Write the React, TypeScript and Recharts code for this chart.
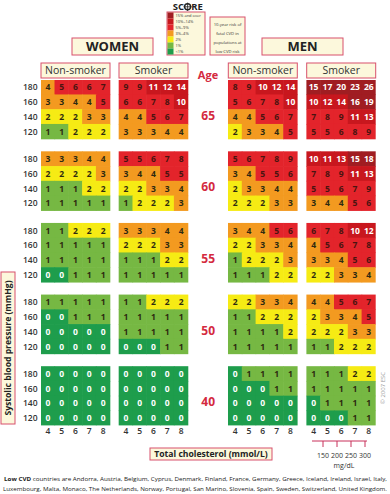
import { ScatterChart, Scatter, XAxis, YAxis } from "recharts";

// cholesterol (mmol/L), systolic BP rows, age blocks
const cholesterol = [4, 5, 6, 7, 8];
const sbp = [180, 160, 140, 120];
const ages = [65, 60, 55, 50, 40];

// 10-year risk (%) per age block, rows 180..120, columns chol 4..8
const womenNonSmoker = [
  [[4, 5, 6, 6, 7], [3, 3, 4, 4, 5], [2, 2, 2, 3, 3], [1, 1, 2, 2, 2]],
  [[3, 3, 3, 4, 4], [2, 2, 2, 2, 3], [1, 1, 1, 2, 2], [1, 1, 1, 1, 1]],
  [[1, 1, 2, 2, 2], [1, 1, 1, 1, 1], [1, 1, 1, 1, 1], [0, 0, 1, 1, 1]],
  [[1, 1, 1, 1, 1], [0, 0, 1, 1, 1], [0, 0, 0, 0, 0], [0, 0, 0, 0, 0]],
  [[0, 0, 0, 0, 0], [0, 0, 0, 0, 0], [0, 0, 0, 0, 0], [0, 0, 0, 0, 0]],
];

const womenSmoker = [
  [[9, 9, 11, 12, 14], [6, 6, 7, 8, 10], [4, 4, 5, 6, 7], [3, 3, 3, 4, 4]],
  [[5, 5, 6, 7, 8], [3, 4, 4, 5, 5], [2, 2, 3, 3, 4], [1, 2, 2, 2, 3]],
  [[3, 3, 3, 4, 4], [2, 2, 2, 3, 3], [1, 1, 1, 2, 2], [1, 1, 1, 1, 1]],
  [[1, 1, 2, 2, 2], [1, 1, 1, 1, 1], [1, 1, 1, 1, 1], [0, 0, 0, 1, 1]],
  [[0, 0, 0, 0, 0], [0, 0, 0, 0, 0], [0, 0, 0, 0, 0], [0, 0, 0, 0, 0]],
];

const menNonSmoker = [
  [[8, 9, 10, 12, 14], [5, 6, 7, 8, 10], [4, 4, 5, 6, 7], [2, 3, 3, 4, 5]],
  [[5, 6, 7, 8, 9], [3, 4, 5, 5, 6], [2, 3, 3, 4, 4], [2, 2, 2, 3, 3]],
  [[3, 4, 4, 5, 6], [2, 2, 3, 3, 4], [1, 2, 2, 2, 3], [1, 1, 1, 2, 2]],
  [[2, 2, 3, 3, 4], [1, 1, 2, 2, 2], [1, 1, 1, 1, 2], [1, 1, 1, 1, 1]],
  [[0, 1, 1, 1, 1], [0, 0, 0, 1, 1], [0, 0, 0, 0, 0], [0, 0, 0, 0, 0]],
];

const menSmoker = [
  [[15, 17, 20, 23, 26], [10, 12, 14, 16, 19], [7, 8, 9, 11, 13], [5, 5, 6, 8, 9]],
  [[10, 11, 13, 15, 18], [7, 8, 9, 11, 13], [5, 5, 6, 7, 9], [3, 4, 4, 5, 6]],
  [[6, 7, 8, 10, 12], [4, 5, 6, 7, 8], [3, 3, 4, 5, 6], [2, 2, 3, 3, 4]],
  [[4, 4, 5, 6, 7], [2, 3, 3, 4, 5], [2, 2, 2, 3, 3], [1, 1, 2, 2, 2]],
  [[1, 1, 1, 2, 2], [1, 1, 1, 1, 1], [0, 1, 1, 1, 1], [0, 0, 0, 1, 1]],
];

const legendLabels = ["15% and over", "10%–14%", "5%–9%", "3%–4%", "2%", "1%", "<1%"];
const legendColors = ["#a01d22", "#c8171e", "#e3242b", "#f39a20", "#f6eb14", "#76b843", "#1e9d4c"];
const mgdl = [150, 200, 250, 300];

// layout (column / row units)
const PANEL_X = [0, 5.65, 13.57, 19.25];
const X_MAX = 24.25;
const BLOCK_PITCH = 4.855;
const Y_MAX = 4 * BLOCK_PITCH + 4;
const CELL_W = 13.8;
const CELL_H = 14.75;

const PINK = "#d8506c";
const CREAM = "#fcf8dc";
const AGE_RED = "#d42a3f";

function riskColor(v: number) {
  if (v >= 15) return legendColors[0];
  if (v >= 10) return legendColors[1];
  if (v >= 5) return legendColors[2];
  if (v >= 3) return legendColors[3];
  if (v === 2) return legendColors[4];
  if (v === 1) return legendColors[5];
  return legendColors[6];
}

const panels = [womenNonSmoker, womenSmoker, menNonSmoker, menSmoker];
const cells = panels.flatMap((panel, p) =>
  panel.flatMap((block, b) =>
    block.flatMap((row, r) =>
      row.map((v, c) => ({ x: PANEL_X[p] + c + 0.5, y: b * BLOCK_PITCH + r + 0.5, v }))
    )
  )
);
const ageMarks = ages.map((age, b) => ({ x: 12.11, y: b * BLOCK_PITCH + 2.4, age }));

const xTicks = PANEL_X.flatMap((o) => cholesterol.map((_, c) => o + c + 0.5));
const yTicks = ages.flatMap((_, b) => sbp.map((_, r) => b * BLOCK_PITCH + r + 0.5));

const tickStyle = { fontSize: 8.5, fontWeight: 600, fill: "#333", fontFamily: "Open Sans" };

const RiskCell = (props: any) => {
  const { cx, cy, payload } = props;
  const v = payload.v;
  const light = v >= 10 || v === 0;
  return (
    <g>
      <rect x={cx - CELL_W / 2 - 0.3} y={cy - CELL_H / 2 - 0.3} width={CELL_W + 0.6} height={CELL_H + 0.6} fill={riskColor(v)} />
      <text x={cx} y={cy + 3} textAnchor="middle" fontSize={8.5} fontWeight={700} fontFamily="Open Sans" fill={light ? "#fff" : v >= 5 ? "#4a1410" : "#2e2a10"}>
        {v}
      </text>
    </g>
  );
};

const AgeMark = (props: any) => {
  const { cx, cy, payload } = props;
  return (
    <text x={cx} y={cy + 4.3} textAnchor="middle" fontSize={12} fontWeight={700} fontFamily="Open Sans" fill={AGE_RED}>
      {payload.age}
    </text>
  );
};

const Box = ({ x, y, w, h }: { x: number; y: number; w: number; h: number }) => (
  <rect x={x} y={y} width={w} height={h} fill={CREAM} stroke={PINK} strokeWidth={1} />
);

function Overlay() {
  return (
    <svg width={390} height={494} style={{ position: "absolute", left: 0, top: 0, pointerEvents: "none" }} fontFamily="Open Sans">
      {/* SCORE logo */}
      <text x={184} y={10.3} textAnchor="end" fontSize={9.5} fontWeight={700} fill="#222">SC</text>
      <circle cx={187.6} cy={6.8} r={3} fill="none" stroke="#222" strokeWidth={1.4} />
      <line x1={187.6} y1={2.6} x2={187.6} y2={11} stroke="#222" strokeWidth={0.8} />
      <line x1={183.4} y1={6.8} x2={191.8} y2={6.8} stroke="#222" strokeWidth={0.8} />
      <text x={191.2} y={10.3} fontSize={9.5} fontWeight={700} fill="#222">RE</text>

      {/* legend */}
      <Box x={167} y={12} w={38} h={43} />
      {legendColors.map((c, i) => (
        <rect key={c} x={167.5} y={12.5 + i * 6} width={6} height={6} fill={c} />
      ))}
      {legendLabels.map((l, i) => (
        <text key={l} x={175.5} y={16.8 + i * 6} fontSize={4} fill="#333">{l}</text>
      ))}

      <Box x={210} y={17} w={35} h={38} />
      {["10-year risk of", "fatal CVD in", "populations at", "low CVD risk"].map((t, i) => (
        <text key={t} x={227.5} y={25.5 + i * 9} textAnchor="middle" fontSize={4.2} fill="#333">{t}</text>
      ))}

      {/* sex headers */}
      <Box x={72} y={38} w={81} h={17} />
      <text x={112.5} y={51} textAnchor="middle" fontSize={13} fontWeight={700} fill="#222">WOMEN</text>
      <Box x={262} y={38} w={81} h={17} />
      <text x={302.5} y={51} textAnchor="middle" fontSize={13} fontWeight={700} fill="#222">MEN</text>

      {/* smoking headers */}
      {[
        [41, "Non-smoker"],
        [119, "Smoker"],
        [228.3, "Non-smoker"],
        [306.7, "Smoker"],
      ].map(([x, t], i) => (
        <g key={i}>
          <Box x={x as number} y={63} w={69} h={15} />
          <text x={(x as number) + 34.5} y={74.3} textAnchor="middle" fontSize={10.5} fill="#333">{t}</text>
        </g>
      ))}
      <text x={208} y={79} textAnchor="middle" fontSize={11} fontWeight={700} fill={AGE_RED}>Age</text>

      {/* y axis title */}
      <Box x={1} y={272} w={14} h={152} />
      <text x={0} y={0} transform="translate(11.3,348) rotate(-90)" textAnchor="middle" fontSize={8.6} fontWeight={700} fill="#222">
        Systolic blood pressure (mmHg)
      </text>

      {/* x axis title */}
      <Box x={150} y={448} w={122} h={12} />
      <text x={211} y={457.3} textAnchor="middle" fontSize={8.6} fontWeight={700} fill="#222">Total cholesterol (mmol/L)</text>

      {/* mg/dL scale */}
      <line x1={312} y1={441} x2={367} y2={441} stroke="#c8305a" strokeWidth={1} />
      {mgdl.map((m, i) => (
        <g key={m}>
          <line x1={323 + i * 14} y1={441} x2={323 + i * 14} y2={447} stroke="#c8305a" strokeWidth={1} />
          <text x={323 + i * 14} y={457.5} textAnchor="middle" fontSize={7} fill="#333">{m}</text>
        </g>
      ))}
      <text x={344} y={467.5} textAnchor="middle" fontSize={7} fill="#333">mg/dL</text>

      {/* copyright */}
      <text x={0} y={0} transform="translate(385,388) rotate(-90)" textAnchor="middle" fontSize={6} fill="#999">© 2007 ESC</text>

      {/* footnote */}
      <text x={4} y={481} fontSize={6} fill="#222" textLength={383} lengthAdjust="spacingAndGlyphs">
        <tspan fontWeight={700}>Low CVD</tspan> countries are Andorra, Austria, Belgium, Cyprus, Denmark, Finland, France, Germany, Greece, Iceland, Ireland, Israel, Italy,
      </text>
      <text x={3} y={491} fontSize={6} fill="#222" textLength={384} lengthAdjust="spacingAndGlyphs">
        Luxembourg, Malta, Monaco, The Netherlands, Norway, Portugal, San Marino, Slovenia, Spain, Sweden, Switzerland, United Kingdom.
      </text>
    </svg>
  );
}

export default function App() {
  return (
    <div style={{ position: "absolute", left: 0, top: 0, width: 390, height: 494, background: "#fff" }}>
      <ScatterChart width={390} height={494} margin={{ top: 80, right: 14.3, bottom: 48.5, left: 0 }}>
        <XAxis
          type="number"
          dataKey="x"
          domain={[0, X_MAX]}
          ticks={xTicks}
          interval={0}
          height={20}
          tickSize={0}
          tickMargin={2.5}
          axisLine={false}
          tickLine={false}
          allowDataOverflow
          tick={tickStyle}
          tickFormatter={(v: number) => {
            const o = PANEL_X.filter((p) => p <= v + 1e-6).pop() ?? 0;
            return String(cholesterol[Math.round(v - o - 0.5)]);
          }}
        />
        <YAxis
          type="number"
          dataKey="y"
          domain={[0, Y_MAX]}
          reversed
          ticks={yTicks}
          interval={0}
          width={41}
          tickSize={0}
          tickMargin={3.5}
          axisLine={false}
          tickLine={false}
          allowDataOverflow
          tick={tickStyle}
          tickFormatter={(v: number) => {
            const b = Math.floor(v / BLOCK_PITCH);
            return String(sbp[Math.round(v - b * BLOCK_PITCH - 0.5)]);
          }}
        />
        <Scatter data={cells} shape={RiskCell} isAnimationActive={false} />
        <Scatter data={ageMarks} shape={AgeMark} isAnimationActive={false} />
      </ScatterChart>
      <Overlay />
    </div>
  );
}
